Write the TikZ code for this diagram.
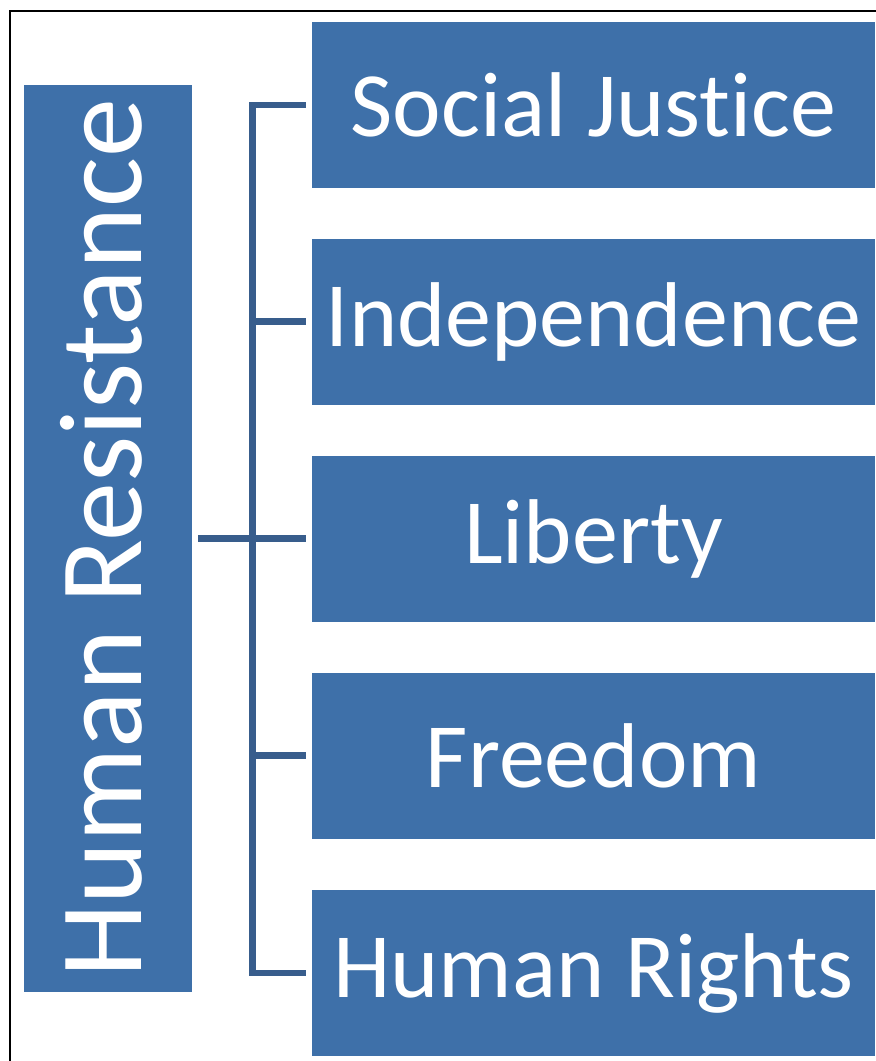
\documentclass[tikz,border=0pt]{standalone}
\usepackage{fontspec}
\setmainfont{Carlito}[Ligatures=NoCommon]
\definecolor{boxblue}{RGB}{62,112,169}
\definecolor{linkblue}{RGB}{56,93,140}

\begin{document}
\begin{tikzpicture}[x=1pt,y=-1pt,
  topic/.style={fill=boxblue, text=white, inner sep=0pt,
    minimum width=563pt, minimum height=166pt, font=\fontsize{92}{100}\selectfont},
  root/.style={fill=boxblue, text=white, inner sep=0pt,
    minimum width=168pt, minimum height=907pt, font=\fontsize{118}{120}\selectfont},
  link/.style={linkblue, line width=6.5pt}]

\useasboundingbox (0,0) rectangle (876,1061);
\clip (0,0) rectangle (876,1061);
\draw [line width=2.2pt] (10,11) rectangle (900,1100);

\node [root] (hr) at (108,538.5) {\rotatebox{90}{Human Resistance}\hspace*{14pt}};

\foreach \i/\y/\txt in {1/105/Social Justice, 2/321.5/Independence,
    3/538.5/Liberty, 4/755.5/Freedom, 5/973/Human Rights}
   \node [topic] (t\i) at (593.5,\y) {\txt};

\coordinate (spine) at (252.5,538.5);

\draw [link] ([xshift=-6pt]t1.west) -| (spine) |- ([xshift=-6pt]t5.west);
\foreach \i in {2,3,4}
   \draw [link] (spine |- t\i.west) -- ([xshift=-6pt]t\i.west);
\draw [link] ([xshift=6pt]hr.east) -- (spine);

\end{tikzpicture}
\end{document}
